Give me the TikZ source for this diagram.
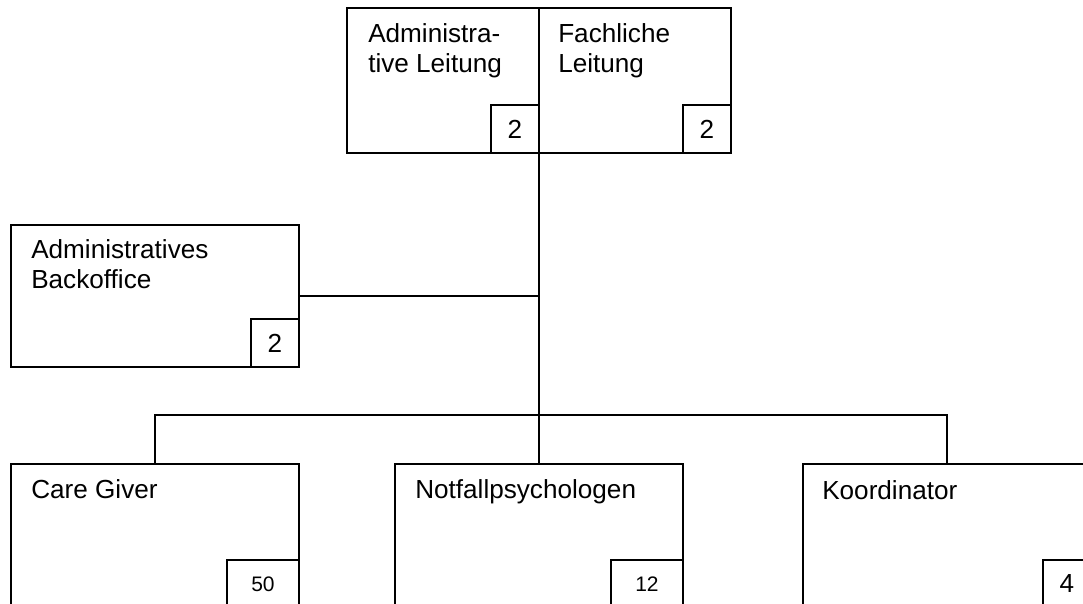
\documentclass[tikz,border=0pt]{standalone}
\usepackage{fontspec}
\setmainfont{Liberation Sans}
\usepackage{tikz}
\usetikzlibrary{positioning,calc}

\tikzset{
  unitbox/.style={draw, line width=1.4pt, rectangle, anchor=north west, inner sep=0pt,
    minimum width=288*0.75pt, minimum height=144*0.75pt},
  leadbox/.style={unitbox, minimum width=192*0.75pt, minimum height=145*0.75pt},
  unittitle/.style={anchor=north west, inner sep=0pt, align=left,
    font=\fontsize{19.6}{22.5}\selectfont},
  countbox/.style={draw, line width=1.4pt, rectangle, anchor=south east, inner sep=0pt,
    minimum width=48*0.75pt, minimum height=48*0.75pt,
    font=\fontsize{19.6}{22.5}\selectfont},
  widecount/.style={countbox, minimum width=72*0.75pt, font=\fontsize{15.75}{18}\selectfont},
  link/.style={line width=1.4pt}
}

\begin{document}
\begin{tikzpicture}[x=0.75pt, y=-0.75pt]
\useasboundingbox (0,0) rectangle (1083,604);
\clip (0,0) rectangle (1083,604);

% Leitung
\node[leadbox] (adm) at (346,7) {};
\node[leadbox] (fach) at (538,7) {};
\node[unittitle] (adm-t) at ([shift={(22,16)}]adm.north west) {Administra-\\tive Leitung};
\node[unittitle] (fach-t) at ([shift={(20,16)}]fach.north west) {Fachliche\\Leitung};
\node[countbox] (adm-n) at (adm.south east) {2};
\node[countbox] (fach-n) at (fach.south east) {2};

% Stab
\node[unitbox, minimum height=142*0.75pt] (back) at (10,224) {};
\node[unittitle] (back-t) at ([shift={(21,15)}]back.north west) {Administratives\\Backoffice};
\node[countbox] (back-n) at (back.south east) {2};

% Einheiten
\node[unitbox] (care) at (10,463) {};
\node[unitbox] (notf) at (394,463) {};
\node[unitbox] (koord) at (802,463) {};
\node[unittitle] (care-t) at ([shift={(21,16)}]care.north west) {Care Giver};
\node[unittitle] (notf-t) at ([shift={(21,16)}]notf.north west) {Notfallpsychologen};
\node[unittitle] (koord-t) at ([shift={(20,17)}]koord.north west) {Koordinator};
\node[widecount] (care-n) at (care.south east) {50};
\node[widecount] (notf-n) at (notf.south east) {12};
\node[countbox] (koord-n) at (koord.south east) {4};

% Linien
\coordinate (bus) at (538,415);
\draw[link] (notf.north |- adm.south east) -- (notf.north);
\draw[link] (back.east) -- (back.east -| notf.north);
\draw[link] (care.north) |- (bus) -| (koord.north);
\end{tikzpicture}
\end{document}
